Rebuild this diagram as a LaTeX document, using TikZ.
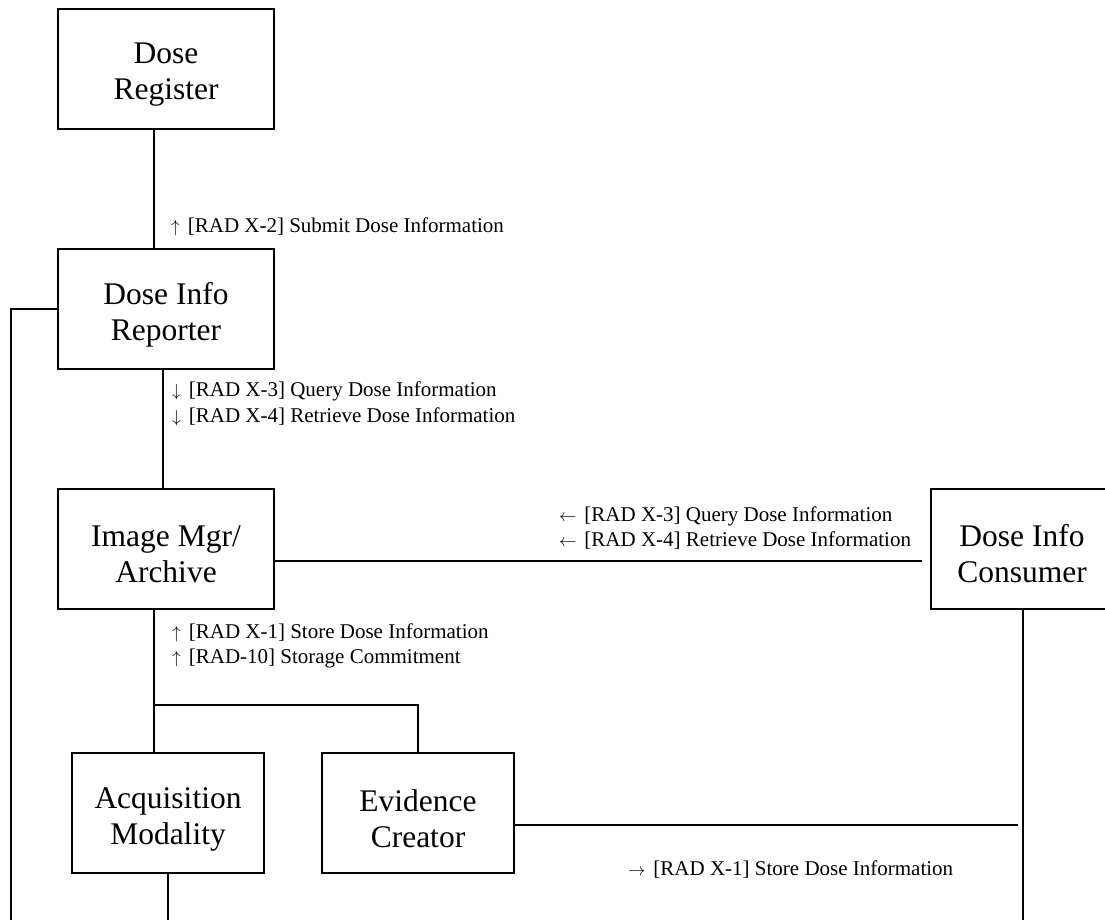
\documentclass[tikz,border=0pt]{standalone}
\usepackage{fontspec}
\setmainfont{Liberation Serif}
% direction arrow in front of a transaction label
\newcommand\flowarr[1]{{\fontsize{18}{18}\selectfont$#1$}\hspace{8pt}}
\begin{document}
\begin{tikzpicture}[x=1pt,y=-1pt,
  actor/.style={draw,line width=2.2pt,rectangle,inner sep=0pt,minimum height=120pt},
  wide/.style={actor,minimum width=216pt},
  mid/.style={actor,minimum width=192pt},
  narrow/.style={actor,minimum width=182pt},
  actortext/.style={inner sep=0pt,align=center,font=\fontsize{31.5}{36}\selectfont},
  link/.style={line width=2pt},
  txlabel/.style={anchor=west,inner sep=0pt,align=left,font=\fontsize{21}{25.5}\selectfont}]
\useasboundingbox (0,0) rectangle (1105,920);

% actor boxes
\node[wide]   (DR)  at (166,69)  {};
\node[wide]   (DIR) at (166,309) {};
\node[wide]   (IM)  at (166,549) {};
\node[narrow] (DIC) at (1022,549) {};
\node[mid]    (AM)  at (168,813) {};
\node[mid]    (EC)  at (418,813) {};

% actor names, set a little below the box centre
\node[actortext] (DRt)  at ([yshift=-6pt]DR)  {Dose\\Register};
\node[actortext] (DIRt) at ([yshift=-6pt]DIR) {Dose Info\\Reporter};
\node[actortext] (IMt)  at ([yshift=-5pt]IM)  {Image Mgr/\\Archive};
\node[actortext] (DICt) at ([yshift=-5pt]DIC) {Dose Info\\Consumer};
\node[actortext] (AMt)  at ([yshift=-6pt]AM)  {Acquisition\\Modality};
\node[actortext] (ECt)  at ([yshift=-6pt]EC)  {Evidence\\Creator};

% free ends of connectors
\coordinate (lft)  at (11,935);
\coordinate (imr)  at (922,561);
\coordinate (ecr)  at (1018,825);
\coordinate (brl)  at (154,705);
\coordinate (brr)  at (418,705);
\coordinate (amb)  at (168,935);
\coordinate (dicb) at (1023,935);

% connectors
\draw[link] ([xshift=-12pt]DR.south) -- ([xshift=-12pt]DIR.north);
\draw[link] ([xshift=-3pt]DIR.south) -- ([xshift=-3pt]IM.north);
\draw[link] (DIR.west) -- (DIR.west -| lft) -- (lft);
\draw[link] ([yshift=-12pt]IM.east) -- (imr);
\draw[link] ([xshift=-12pt]IM.south) -- (brl) -- (brr) -- (EC.north);
\draw[link] (brl) -- ([xshift=-14pt]AM.north);
\draw[link] (AM.south) -- (amb);
\draw[link] ([yshift=-12pt]EC.east) -- (ecr);
\draw[link] (DIC.south -| dicb) -- (dicb);

% transaction labels
\node[txlabel] (t1) at (171,227) {\flowarr{\uparrow}[RAD X-2] Submit Dose Information};
\node[txlabel] (t2) at (172,404) {\flowarr{\downarrow}[RAD X-3] Query Dose Information\\
  \flowarr{\downarrow}[RAD X-4] Retrieve Dose Information};
\node[txlabel] (t3) at (559,528) {\flowarr{\leftarrow}[RAD X-3] Query Dose Information\\
  \flowarr{\leftarrow}[RAD X-4] Retrieve Dose Information};
\node[txlabel] (t4) at (172,646) {\flowarr{\uparrow}[RAD X-1] Store Dose Information\\
  \flowarr{\uparrow}[RAD-10] Storage Commitment};
\node[txlabel] (t5) at (628,870) {\flowarr{\rightarrow}[RAD X-1] Store Dose Information};
\end{tikzpicture}
\end{document}
